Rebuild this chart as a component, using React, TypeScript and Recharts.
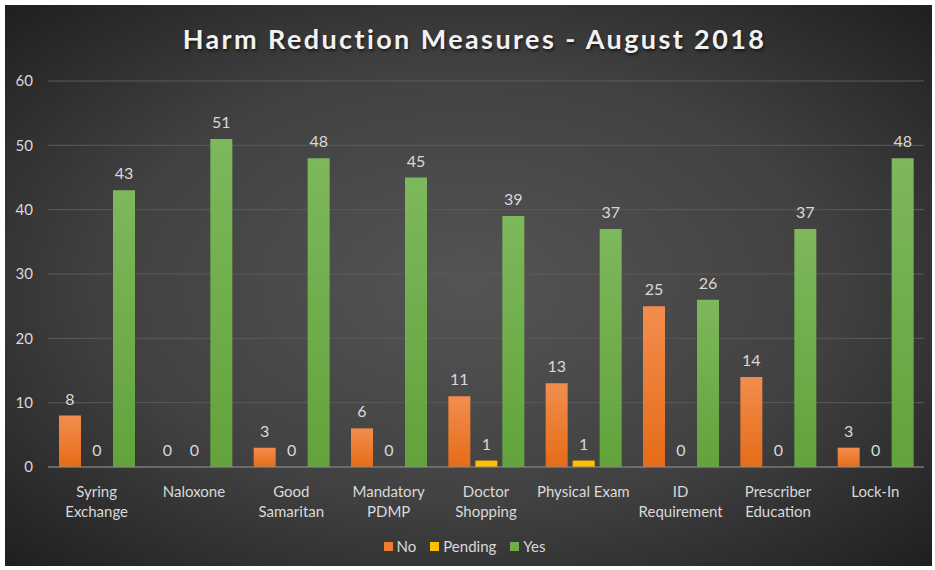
import { BarChart, Bar, XAxis, YAxis, CartesianGrid, Legend, LabelList } from 'recharts';

const categories = [
  'Syring Exchange',
  'Naloxone',
  'Good Samaritan',
  'Mandatory PDMP',
  'Doctor Shopping',
  'Physical Exam',
  'ID Requirement',
  'Prescriber Education',
  'Lock-In',
];
const noValues = [8, 0, 3, 6, 11, 13, 25, 14, 3];
const pendingValues = [0, 0, 0, 0, 1, 1, 0, 0, 0];
const yesValues = [43, 51, 48, 45, 39, 37, 26, 37, 48];
const yTicks = [0, 10, 20, 30, 40, 50, 60];

const data = categories.map((name, i) => ({
  name,
  No: noValues[i],
  Pending: pendingValues[i],
  Yes: yesValues[i],
}));

const FONT = 'Lato, "Open Sans", sans-serif';
const TEXT = '#d9d9d9';

const legendItems = [
  { label: 'No', color: '#ed7d31' },
  { label: 'Pending', color: '#ffc000' },
  { label: 'Yes', color: '#70ad47' },
];

// zero bars still need a rect so their "0" label gets drawn
const keepZero = (value: any) => (value === 0 ? 0.01 : 0);

function CategoryTick({ x, y, payload }: any) {
  const label: string = payload.value;
  const lines = label.length > 13 ? label.split(' ') : [label];
  return (
    <text x={x} y={y} textAnchor="middle" fill={TEXT} fontSize={15} fontFamily={FONT}>
      {lines.map((line, i) => (
        <tspan key={i} x={x} dy={i === 0 ? 22 : 20}>
          {line}
        </tspan>
      ))}
    </text>
  );
}

function LegendContent() {
  return (
    <div style={{ display: 'flex', justifyContent: 'center', gap: 14, fontFamily: FONT, fontSize: 15, color: TEXT }}>
      {legendItems.map((item) => (
        <div key={item.label} style={{ display: 'flex', alignItems: 'center', gap: 4 }}>
          <div style={{ width: 9, height: 9, background: item.color }} />
          <span>{item.label}</span>
        </div>
      ))}
    </div>
  );
}

const labelProps = { position: 'top' as const, offset: 11, fill: TEXT, fontSize: 16, fontFamily: FONT };

export default function App() {
  return (
    <div style={{ position: 'absolute', left: 0, top: 0, width: 935, height: 570, background: '#ffffff' }}>
      <div
        style={{
          position: 'absolute',
          left: 5,
          top: 5,
          width: 927,
          height: 561,
          background: 'radial-gradient(ellipse at 50% 50%, #545454 0%, #414141 55%, #1f1f1f 100%)',
        }}
      >
        <div
          style={{
            position: 'absolute',
            left: 6,
            top: 17,
            width: 927,
            textAlign: 'center',
            fontFamily: FONT,
            fontWeight: 700,
            fontSize: 27,
            letterSpacing: 2.4,
            color: '#f2f2f2',
            textShadow: '1px 2px 3px rgba(0,0,0,0.6)',
          }}
        >
          Harm Reduction Measures - August 2018
        </div>
        <BarChart
          width={927}
          height={561}
          data={data}
          margin={{ top: 76, right: 8, left: 0, bottom: 0 }}
          barGap={5}
          barSize={22}
        >
          <defs>
            <linearGradient id="noFill" x1="0" y1="0" x2="0" y2="1">
              <stop offset="0%" stopColor="#f28d4f" />
              <stop offset="100%" stopColor="#e66c17" />
            </linearGradient>
            <linearGradient id="yesFill" x1="0" y1="0" x2="0" y2="1">
              <stop offset="0%" stopColor="#7db85c" />
              <stop offset="100%" stopColor="#62a33b" />
            </linearGradient>
          </defs>
          <CartesianGrid vertical={false} stroke="#5b5b5b" />
          <XAxis
            dataKey="name"
            interval={0}
            height={70}
            tick={<CategoryTick />}
            tickLine={false}
            axisLine={{ stroke: '#8a8a8a' }}
          />
          <YAxis
            domain={[0, 60]}
            ticks={yTicks}
            width={43}
            tickSize={0}
            tickMargin={15}
            axisLine={false}
            tickLine={false}
            tick={{ fill: TEXT, fontSize: 15, fontFamily: FONT }}
          />
          <Legend verticalAlign="bottom" height={29} content={<LegendContent />} />
          <Bar dataKey="No" fill="url(#noFill)" minPointSize={keepZero} isAnimationActive={false}>
            <LabelList dataKey="No" {...labelProps} />
          </Bar>
          <Bar dataKey="Pending" fill="#ffc000" minPointSize={keepZero} isAnimationActive={false}>
            <LabelList dataKey="Pending" {...labelProps} />
          </Bar>
          <Bar dataKey="Yes" fill="url(#yesFill)" minPointSize={keepZero} isAnimationActive={false}>
            <LabelList dataKey="Yes" {...labelProps} />
          </Bar>
        </BarChart>
      </div>
    </div>
  );
}
